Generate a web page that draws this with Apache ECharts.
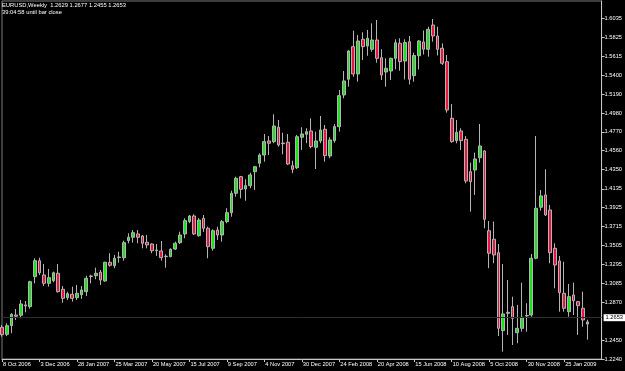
<!DOCTYPE html>
<html>
<head>
<meta charset="utf-8">
<script src="https://cdn.jsdelivr.net/npm/echarts@6/dist/echarts.min.js"></script>
<style>
  html, body { margin: 0; padding: 0; background: #000; }
  #chart { width: 625px; height: 371px; }
</style>
</head>
<body>
<div id="chart"></div>
<script>
// EURUSD weekly candles, first bar = week of 8 Oct 2006
const openPx = [
  1.2593, 1.2515, 1.2611, 1.2730, 1.2727, 1.2842, 1.2823, 1.3157, 1.3335, 1.3176,
  1.3083, 1.3112, 1.3195, 1.3017, 1.2923, 1.2961, 1.2923, 1.2956, 1.2990, 1.3165,
  1.3168, 1.3206, 1.3109, 1.3317, 1.3279, 1.3370, 1.3368, 1.3558, 1.3596, 1.3633,
  1.3610, 1.3540, 1.3521, 1.3454, 1.3443, 1.3380, 1.3380, 1.3465, 1.3536, 1.3633,
  1.3770, 1.3833, 1.3614, 1.3807, 1.3696, 1.3473, 1.3677, 1.3621, 1.3770, 1.3870,
  1.4086, 1.4271, 1.4134, 1.4171, 1.4326, 1.4420, 1.4512, 1.4668, 1.4661, 1.4821,
  1.4638, 1.4654, 1.4393, 1.4371, 1.4710, 1.4743, 1.4780, 1.4598, 1.4668, 1.4799,
  1.4501, 1.4672, 1.4828, 1.5181, 1.5356, 1.5719, 1.5415, 1.5801, 1.5726, 1.5690,
  1.5793, 1.5596, 1.5437, 1.5448, 1.5589, 1.5757, 1.5559, 1.5774, 1.5396, 1.5618,
  1.5771, 1.5690, 1.5960, 1.5838, 1.5701, 1.5552, 1.4921, 1.4672, 1.4780, 1.4687,
  1.4326, 1.4345, 1.4482, 1.4557, 1.3669, 1.3574, 1.3424, 1.2556, 1.2749, 1.2823,
  1.2533, 1.2582, 1.2720, 1.2730, 1.3362, 1.3930, 1.4067, 1.3900, 1.3473, 1.3332,
  1.2972, 1.2767, 1.2953, 1.2879, 1.2805, 1.2629
];
const highPx = [
  1.2619, 1.2638, 1.2749, 1.2797, 1.2897, 1.2886, 1.3112, 1.3362, 1.3368, 1.3298,
  1.3243, 1.3213, 1.3298, 1.3053, 1.2990, 1.3046, 1.3065, 1.3053, 1.3168, 1.3179,
  1.3257, 1.3232, 1.3324, 1.3418, 1.3399, 1.3435, 1.3558, 1.3640, 1.3677, 1.3677,
  1.3621, 1.3621, 1.3529, 1.3521, 1.3555, 1.3406, 1.3473, 1.3547, 1.3658, 1.3807,
  1.3844, 1.3852, 1.3811, 1.3844, 1.3714, 1.3685, 1.3714, 1.3788, 1.3919, 1.4115,
  1.4271, 1.4279, 1.4242, 1.4315, 1.4390, 1.4531, 1.4746, 1.4724, 1.4966, 1.4902,
  1.4761, 1.4746, 1.4449, 1.4735, 1.4821, 1.4810, 1.4921, 1.4772, 1.4947, 1.4847,
  1.4710, 1.4858, 1.5236, 1.5448, 1.5682, 1.5897, 1.5849, 1.5879, 1.5905, 1.5979,
  1.6016, 1.5690, 1.5589, 1.5596, 1.5801, 1.5812, 1.5801, 1.5838, 1.5652, 1.5793,
  1.5899, 1.5941, 1.6027, 1.5941, 1.5756, 1.5626, 1.5080, 1.4902, 1.4810, 1.4724,
  1.4427, 1.4538, 1.4858, 1.4568, 1.3777, 1.3770, 1.3521, 1.3298, 1.3120, 1.2934,
  1.2842, 1.3090, 1.2861, 1.3410, 1.4724, 1.4123, 1.4353, 1.3956, 1.3529, 1.3388,
  1.3324, 1.3076, 1.3090, 1.2886, 1.2990, 1.2677
];
const lowPx = [
  1.2489, 1.2496, 1.2527, 1.2675, 1.2694, 1.2760, 1.2800, 1.3083, 1.3176, 1.3053,
  1.3046, 1.3095, 1.2979, 1.2867, 1.2897, 1.2879, 1.2897, 1.2909, 1.2942, 1.3083,
  1.3128, 1.3065, 1.3101, 1.3268, 1.3251, 1.3313, 1.3335, 1.3529, 1.3536, 1.3529,
  1.3473, 1.3473, 1.3418, 1.3388, 1.3335, 1.3257, 1.3373, 1.3454, 1.3521, 1.3585,
  1.3752, 1.3621, 1.3602, 1.3655, 1.3362, 1.3446, 1.3566, 1.3547, 1.3752, 1.3825,
  1.4048, 1.4030, 1.4003, 1.4142, 1.4123, 1.4375, 1.4438, 1.4512, 1.4643, 1.4605,
  1.4520, 1.4401, 1.4309, 1.4356, 1.4568, 1.4643, 1.4587, 1.4356, 1.4643, 1.4438,
  1.4476, 1.4649, 1.4772, 1.5144, 1.5273, 1.5384, 1.5329, 1.5571, 1.5618, 1.5663,
  1.5540, 1.5348, 1.5273, 1.5348, 1.5467, 1.5451, 1.5353, 1.5298, 1.5329, 1.5465,
  1.5632, 1.5607, 1.5774, 1.5621, 1.5515, 1.4984, 1.4649, 1.4643, 1.4568, 1.4197,
  1.3881, 1.4067, 1.4427, 1.3696, 1.3251, 1.3306, 1.2496, 1.2322, 1.2508, 1.2396,
  1.2415, 1.2544, 1.2544, 1.2711, 1.3351, 1.3892, 1.3833, 1.3306, 1.3028, 1.2767,
  1.2767, 1.2711, 1.2730, 1.2508, 1.2600, 1.2455
];
const closePx = [
  1.2511, 1.2611, 1.2738, 1.2716, 1.2853, 1.2831, 1.3101, 1.3335, 1.3201, 1.3083,
  1.3146, 1.3201, 1.2990, 1.2916, 1.2968, 1.2916, 1.2972, 1.3009, 1.3139, 1.3159,
  1.3195, 1.3120, 1.3317, 1.3284, 1.3362, 1.3376, 1.3536, 1.3596, 1.3647, 1.3596,
  1.3529, 1.3510, 1.3446, 1.3446, 1.3369, 1.3384, 1.3462, 1.3529, 1.3621, 1.3781,
  1.3833, 1.3633, 1.3788, 1.3696, 1.3491, 1.3669, 1.3621, 1.3770, 1.3870, 1.4086,
  1.4253, 1.4130, 1.4171, 1.4290, 1.4382, 1.4512, 1.4661, 1.4643, 1.4835, 1.4624,
  1.4646, 1.4412, 1.4353, 1.4716, 1.4746, 1.4772, 1.4605, 1.4668, 1.4791, 1.4505,
  1.4680, 1.4828, 1.5173, 1.5337, 1.5671, 1.5415, 1.5782, 1.5719, 1.5812, 1.5793,
  1.5589, 1.5403, 1.5478, 1.5589, 1.5763, 1.5552, 1.5765, 1.5356, 1.5621, 1.5782,
  1.5690, 1.5912, 1.5838, 1.5690, 1.5534, 1.5014, 1.4661, 1.4765, 1.4672, 1.4223,
  1.4215, 1.4468, 1.4613, 1.3796, 1.3418, 1.3399, 1.2582, 1.2742, 1.2760, 1.2694,
  1.2582, 1.2705, 1.2725, 1.3362, 1.3919, 1.4056, 1.3844, 1.3424, 1.3287, 1.2979,
  1.2805, 1.2934, 1.2889, 1.2834, 1.2675, 1.2653
];

// axis labels as printed on the chart
const xTickLabels = ['8 Oct 2006', '3 Dec 2006', '28 Jan 2007', '25 Mar 2007', '20 May 2007',
  '15 Jul 2007', '9 Sep 2007', '4 Nov 2007', '30 Dec 2007', '24 Feb 2008', '20 Apr 2008',
  '15 Jun 2008', '10 Aug 2008', '5 Oct 2008', '30 Nov 2008', '25 Jan 2009'];
const yTickLabels = ['1.6035', '1.5825', '1.5615', '1.5400', '1.5190', '1.4980', '1.4770',
  '1.4560', '1.4350', '1.4135', '1.3925', '1.3715', '1.3505', '1.3295', '1.3085', '1.2870',
  '1.2450', '1.2240'];
const lastPrice = 1.2653;
const header = 'EURUSD,Weekly  1.2629 1.2677 1.2455 1.2653';
const subHeader = '39:04:58 until bar close';

const MONTHS = ['Jan', 'Feb', 'Mar', 'Apr', 'May', 'Jun', 'Jul', 'Aug', 'Sep', 'Oct', 'Nov', 'Dec'];
// one slot per week, plus 3 empty slots on the right
const weeks = [];
for (let i = 0; i < openPx.length + 3; i++) {
  const d = new Date(Date.UTC(2006, 9, 8 + 7 * i));
  weeks.push(d.getUTCDate() + ' ' + MONTHS[d.getUTCMonth()] + ' ' + d.getUTCFullYear());
}
const candles = openPx.map((o, i) => [o, closePx[i], lowPx[i], highPx[i]]);

const FONT = "'Liberation Sans', Arial, sans-serif";
const showTick = (idx, val) => xTickLabels.indexOf(val) >= 0;

const chart = echarts.init(document.getElementById('chart'), null, { renderer: 'canvas' });
chart.setOption({
  backgroundColor: '#000',
  animation: false,
  title: {
    left: 2, top: 2, padding: 0, itemGap: 1,
    text: header,
    subtext: subHeader,
    textStyle: { color: '#fff', fontSize: 5.8, fontWeight: 'normal', fontFamily: FONT },
    subtextStyle: { color: '#fff', fontSize: 5.8, fontFamily: FONT }
  },
  grid: {
    left: 1, right: 22, top: 1, bottom: 12,
    show: true, borderColor: '#7a7a7a', borderWidth: 1, backgroundColor: 'transparent'
  },
  xAxis: {
    type: 'category',
    data: weeks,
    boundaryGap: false,
    axisLine: { lineStyle: { color: '#c8c8c8' } },
    axisTick: { show: true, interval: showTick, length: 3, lineStyle: { color: '#c8c8c8' } },
    axisLabel: {
      interval: showTick, align: 'left', margin: 2, padding: [0, 0, 0, 1],
      color: '#fff', fontSize: 5.7, fontFamily: FONT
    },
    splitLine: { show: false }
  },
  yAxis: {
    type: 'value',
    position: 'right',
    min: 1.2240,
    max: 1.62275,
    axisLine: { show: true, lineStyle: { color: '#c8c8c8' } },
    axisTick: { show: true, length: 3, customValues: yTickLabels.map(Number), lineStyle: { color: '#c8c8c8' } },
    axisLabel: {
      customValues: yTickLabels.map(Number),
      formatter: v => v.toFixed(4),
      margin: 3, color: '#fff', fontSize: 5.7, fontFamily: FONT
    },
    splitLine: { show: false }
  },
  series: [{
    type: 'candlestick',
    data: candles,
    barWidth: 3.2,
    itemStyle: {
      color: '#1fe01f', color0: '#e8163f',
      borderColor: '#b4b4b4', borderColor0: '#b4b4b4', borderWidth: 1
    },
    markLine: {
      silent: true,
      symbol: ['none', 'none'],
      lineStyle: { color: '#2e2e2e', width: 1, type: 'solid' },
      label: {
        show: true, position: 'end', distance: 2,
        formatter: lastPrice.toFixed(4),
        color: '#000', backgroundColor: '#fff', padding: [1, 2, 0, 2],
        fontSize: 5.7, fontFamily: FONT
      },
      data: [{ yAxis: lastPrice }]
    }
  }]
});
</script>
</body>
</html>
